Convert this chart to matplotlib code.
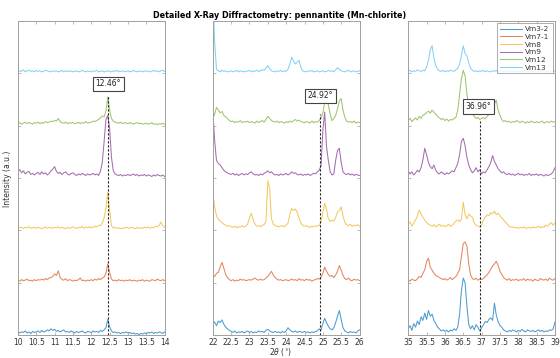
import numpy as np
import matplotlib
matplotlib.use('Agg')
import matplotlib.pyplot as plt

# intensities, in 1/100 of the stacking step (a.u.)
# scan grid is 0.05 deg inside each window
windows = [(10, 14), (22, 26), (35, 39)]
peak_pos = [12.46, 24.92, 36.96]
peak_labels = ['12.46°', '24.92°', '36.96°']
samples = ['Vm3-2', 'Vm7-1', 'Vm8', 'Vm9', 'Vm12', 'Vm13']

vm3_2_a = [7, 4, 6, 5, 8, 4, 6, 3, 7, 5, 6, 8, 5, 9, 6, 7, 10, 8, 12, 9,
           11, 7, 9, 6, 8, 10, 6, 7, 5, 8, 6, 4, 7, 5, 6, 8, 5, 4, 7, 6,
           5, 8, 6, 7, 5, 9, 7, 10, 14, 30, 16, 8, 5, 6, 4, 5, 3, 5, 4, 6,
           4, 5, 3, 4, 2, 3, 1, 3, 2, 4, 3, 5, 4, 6, 3, 5, 4, 6, 5, 3, 6]
vm7_1_a = [5, 3, 6, 4, 5, 7, 4, 5, 3, 6, 4, 6, 5, 7, 5, 8, 6, 9, 10, 12,
           17, 14, 23, 10, 6, 5, 8, 4, 6, 5, 3, 5, 4, 6, 9, 4, 5, 3, 5, 4,
           6, 4, 7, 5, 8, 6, 9, 11, 18, 36, 20, 7, 4, 5, 3, 6, 4, 5, 3, 5,
           4, 6, 3, 5, 4, 3, 5, 4, 6, 3, 5, 4, 3, 6, 5, 4, 7, 5, 4, 6, 4]
vm8_a = [7, 5, 6, 4, 6, 5, 7, 4, 5, 6, 4, 6, 5, 3, 5, 7, 4, 6, 5, 4,
         6, 5, 7, 4, 6, 5, 3, 6, 4, 5, 7, 5, 4, 6, 5, 8, 4, 6, 5, 7,
         5, 6, 8, 7, 10, 9, 14, 24, 42, 73, 38, 9, 5, 6, 4, 5, 3, 5, 4, 6,
         5, 4, 6, 5, 3, 6, 4, 5, 4, 6, 5, 7, 4, 6, 5, 8, 7, 10, 16, 9, 6]
vm9_a = [12, 16, 10, 14, 8, 11, 13, 7, 9, 6, 9, 11, 7, 12, 8, 10, 6, 9, 14, 17,
         22, 13, 9, 11, 7, 10, 12, 8, 6, 9, 10, 7, 5, 8, 6, 9, 7, 5, 8, 6,
         7, 9, 6, 8, 5, 13, 30, 70, 112, 120, 95, 40, 14, 8, 6, 5, 7, 4, 6, 5,
         7, 5, 6, 8, 5, 7, 4, 6, 5, 7, 4, 6, 5, 3, 6, 4, 7, 5, 4, 6, 3]
vm12_a = [4, 6, 3, 5, 7, 4, 6, 5, 3, 6, 5, 7, 4, 6, 5, 8, 6, 7, 9, 8,
          10, 9, 14, 8, 6, 5, 7, 4, 6, 5, 6, 4, 5, 7, 4, 6, 5, 8, 5, 6,
          7, 9, 8, 10, 12, 15, 19, 17, 28, 55, 30, 14, 9, 7, 6, 5, 7, 4, 6, 5,
          4, 6, 5, 3, 5, 6, 4, 5, 3, 4, 5, 3, 4, 6, 3, 4, 2, 4, 3, 5, 3]
vm13_a = [3, 5, 4, 7, 3, 5, 6, 4, 5, 3, 6, 4, 5, 3, 4, 6, 5, 4, 3, 5,
          4, 5, 3, 4, 6, 3, 5, 4, 4, 5, 3, 4, 5, 3, 4, 6, 4, 3, 5, 4,
          3, 5, 4, 6, 3, 4, 5, 3, 4, 5, 4, 3, 5, 4, 6, 3, 4, 5, 3, 4,
          5, 3, 4, 6, 4, 3, 5, 4, 3, 5, 4, 5, 3, 4, 6, 4, 5, 3, 5, 6, 4]

vm3_2_b = [22, 25, 18, 27, 24, 29, 21, 15, 12, 9, 7, 5, 8, 4, 6, 5, 7, 4, 6, 8,
           5, 7, 4, 6, 5, 8, 6, 7, 5, 9, 11, 8, 6, 5, 7, 5, 6, 4, 7, 5,
           8, 14, 10, 7, 6, 8, 5, 7, 6, 5, 7, 5, 6, 4, 6, 5, 7, 8, 12, 10,
           22, 32, 24, 17, 12, 10, 14, 24, 36, 47, 30, 14, 8, 6, 4, 7, 5, 6, 4, 8, 10]
vm7_1_b = [15, 12, 18, 20, 30, 39, 28, 16, 10, 6, 4, 6, 3, 5, 4, 7, 5, 6, 4, 5,
           6, 5, 7, 9, 6, 5, 7, 5, 6, 9, 12, 17, 22, 14, 10, 7, 5, 6, 4, 5,
           6, 4, 5, 7, 5, 6, 4, 8, 5, 6, 4, 7, 5, 6, 3, 5, 6, 8, 7, 10,
           18, 30, 22, 16, 12, 14, 10, 15, 22, 33, 24, 14, 8, 6, 9, 5, 4, 7, 5, 6, 4]
vm8_b = [71, 45, 28, 22, 18, 15, 12, 10, 8, 9, 7, 6, 8, 5, 7, 6, 9, 7, 8, 12,
         24, 33, 20, 12, 8, 9, 7, 10, 11, 18, 95, 80, 22, 12, 9, 8, 7, 9, 8, 7,
         10, 14, 30, 42, 38, 41, 35, 24, 14, 10, 8, 9, 7, 6, 8, 7, 9, 8, 10, 15,
         35, 52, 40, 22, 17, 20, 18, 25, 35, 38, 45, 28, 15, 11, 9, 12, 8, 10, 9, 11, 8]
vm9_b = [129, 72, 34, 28, 25, 20, 15, 12, 10, 8, 7, 9, 6, 8, 5, 7, 9, 6, 8, 7,
         10, 12, 8, 6, 7, 5, 8, 6, 9, 11, 14, 10, 12, 8, 6, 7, 5, 8, 6, 7,
         9, 6, 8, 12, 9, 10, 7, 6, 8, 5, 7, 6, 8, 5, 7, 9, 8, 12, 15, 23,
         90, 126, 60, 34, 12, 6, 8, 34, 53, 57, 30, 12, 8, 7, 9, 6, 8, 5, 7, 6, 5]
vm12_b = [14, 22, 35, 30, 25, 27, 20, 17, 14, 10, 8, 9, 6, 8, 7, 10, 6, 8, 7, 9,
          6, 8, 7, 5, 9, 6, 8, 10, 7, 12, 18, 14, 10, 8, 7, 9, 6, 8, 7, 5,
          8, 6, 9, 7, 10, 12, 9, 11, 8, 7, 6, 8, 7, 5, 9, 6, 8, 7, 10, 15,
          24, 45, 56, 40, 22, 10, 14, 20, 32, 48, 52, 30, 16, 9, 7, 8, 6, 9, 5, 7, 6]
vm13_b = [160, 60, 8, 5, 3, 6, 4, 5, 3, 4, 5, 3, 4, 6, 3, 5, 4, 3, 5, 4,
          6, 3, 5, 4, 6, 4, 5, 7, 6, 10, 15, 9, 5, 4, 3, 5, 4, 6, 3, 5,
          4, 8, 18, 31, 24, 18, 22, 25, 12, 5, 4, 3, 5, 4, 6, 3, 4, 5, 3, 4,
          5, 3, 4, 6, 4, 5, 3, 7, 11, 8, 5, 4, 3, 5, 6, 3, 4, 5, 3, 4, 5]

vm3_2_c = [12, 18, 9, 22, 15, 27, 20, 35, 28, 42, 30, 47, 36, 40, 28, 22, 15, 12, 8, 10,
           7, 9, 6, 10, 8, 12, 9, 15, 40, 85, 109, 100, 55, 20, 12, 18, 10, 20, 15, 8,
           14, 20, 26, 24, 30, 33, 28, 61, 38, 26, 18, 15, 10, 8, 6, 9, 7, 10, 8, 6,
           9, 7, 11, 8, 6, 10, 8, 7, 9, 6, 8, 10, 7, 9, 6, 8, 7, 10, 9, 12, 25]
vm7_1_c = [6, 3, 7, 5, 4, 8, 12, 10, 18, 25, 40, 47, 30, 24, 18, 14, 12, 10, 8, 6,
           8, 5, 7, 10, 6, 9, 12, 18, 25, 50, 75, 78, 70, 35, 15, 8, 6, 9, 5, 7,
           6, 8, 12, 15, 20, 26, 32, 36, 41, 33, 22, 16, 10, 7, 5, 8, 4, 6, 5, 7,
           4, 6, 5, 8, 4, 7, 5, 6, 3, 7, 5, 4, 8, 6, 5, 7, 4, 9, 6, 5, 8]
vm8_c = [12, 16, 8, 14, 20, 28, 39, 32, 25, 20, 15, 12, 10, 8, 11, 7, 9, 12, 8, 10,
         7, 9, 12, 8, 10, 14, 18, 20, 17, 22, 54, 30, 22, 31, 28, 25, 14, 10, 8, 7,
         10, 20, 25, 30, 28, 34, 32, 37, 30, 33, 28, 24, 20, 16, 12, 8, 6, 7, 5, 6,
         4, 6, 5, 7, 4, 5, 6, 4, 7, 5, 6, 8, 5, 7, 6, 10, 8, 12, 15, 10, 14]
vm9_c = [14, 8, 12, 6, 10, 15, 12, 20, 35, 57, 45, 30, 22, 18, 25, 15, 10, 8, 12, 9,
         7, 10, 8, 11, 14, 12, 20, 28, 45, 70, 76, 62, 40, 25, 16, 10, 14, 20, 12, 16,
         8, 12, 10, 16, 22, 30, 43, 32, 25, 18, 14, 10, 12, 8, 7, 9, 6, 8, 5, 7,
         9, 6, 8, 5, 7, 6, 9, 5, 7, 6, 8, 5, 7, 6, 4, 7, 5, 6, 8, 12, 20]
vm12_c = [10, 14, 8, 12, 15, 11, 18, 14, 20, 22, 25, 28, 24, 30, 26, 22, 18, 15, 12, 14,
          10, 13, 9, 12, 11, 14, 16, 30, 60, 90, 106, 95, 60, 40, 30, 23, 18, 14, 16, 12,
          14, 16, 13, 18, 22, 28, 35, 42, 49, 30, 20, 12, 8, 10, 7, 9, 6, 8, 7, 10,
          8, 6, 9, 7, 5, 8, 6, 9, 7, 6, 8, 6, 7, 9, 5, 7, 8, 6, 9, 7, 8]
vm13_c = [4, 6, 3, 5, 4, 7, 5, 4, 6, 5, 12, 25, 45, 53, 30, 15, 8, 5, 4, 6,
          3, 5, 4, 6, 5, 4, 7, 10, 18, 35, 53, 38, 34, 20, 10, 6, 4, 5, 3, 5,
          4, 6, 3, 5, 4, 3, 5, 4, 6, 3, 5, 4, 3, 5, 4, 6, 3, 4, 5, 3,
          4, 5, 3, 4, 6, 3, 5, 4, 3, 5, 4, 3, 5, 4, 6, 3, 4, 5, 3, 4, 5]

traces = [
    [vm3_2_a, vm3_2_b, vm3_2_c],
    [vm7_1_a, vm7_1_b, vm7_1_c],
    [vm8_a, vm8_b, vm8_c],
    [vm9_a, vm9_b, vm9_c],
    [vm12_a, vm12_b, vm12_c],
    [vm13_a, vm13_b, vm13_c],
]

# matlab default line colours
colors = ['#0072BD', '#D95319', '#EDB120', '#7E2F8E', '#77AC30', '#4DBEEE']

# where the peak label boxes sit (data coords) and how high the marker line goes
label_xy = [(12.46, 4.80), (24.93, 4.57), (36.92, 4.37)]
line_top = [4.58, 4.22, 4.10]

spine_col = '#a0a0a0'
fig = plt.figure(figsize=(5.6, 3.58), dpi=100)
lefts = [0.032, 0.380, 0.729]
axes = []
for i, (lo, hi) in enumerate(windows):
    ax = fig.add_axes([lefts[i], 0.064, 0.262, 0.877])
    axes.append(ax)
    theta = np.linspace(lo, hi, 81)
    handles = []
    for k, name in enumerate(samples):
        y = np.array(traces[k][i]) / 100.0 + k
        h, = ax.plot(theta, y, color=colors[k], lw=0.75, alpha=0.7, label=name)
        handles.append(h)

    ax.plot([peak_pos[i], peak_pos[i]], [0, line_top[i]], color='#222222',
            lw=0.8, linestyle=(0, (2, 1.6)), zorder=5)
    ax.text(label_xy[i][0], label_xy[i][1], peak_labels[i], fontsize=5.5,
            ha='center', va='center', color='#222222', zorder=6,
            bbox=dict(boxstyle='square,pad=0.35', fc='white', ec='#444444', lw=0.8))

    ax.set_xlim(lo, hi)
    ax.set_ylim(0, 6)
    ax.set_xticks(np.arange(lo, hi + 0.01, 0.5))
    ax.set_xticklabels([('%g' % v) for v in np.arange(lo, hi + 0.01, 0.5)])
    ax.set_yticks(range(6))
    ax.set_yticklabels([])
    ax.tick_params(direction='in', length=2.5, width=0.5, colors=spine_col,
                   labelcolor='#333333', labelsize=5.5, top=True, right=True, pad=2)
    for s in ax.spines.values():
        s.set_color(spine_col)
        s.set_linewidth(0.7)

leg = axes[2].legend(handles=handles, loc='upper right', fontsize=5.3,
                     frameon=True, fancybox=False, handlelength=3.0,
                     borderpad=0.4, labelspacing=0.2, handletextpad=0.5,
                     borderaxespad=0.3)
leg.get_frame().set_edgecolor('#888888')
leg.get_frame().set_linewidth(0.6)
for t in leg.get_texts():
    t.set_color('#333333')

fig.text(0.5, 0.958, 'Detailed X-Ray Diffractometry: pennantite (Mn-chlorite)',
         ha='center', va='center', fontsize=5.8, fontweight='bold')
fig.text(0.5, 0.018, r'2$\theta$ ($^{\circ}$)', ha='center', va='center',
         fontsize=5.5, color='#333333')
fig.text(0.013, 0.5, 'Intensity (a.u.)', ha='center', va='center',
         rotation=90, fontsize=5.5, color='#333333')

fig.savefig('out.png', dpi=100)
